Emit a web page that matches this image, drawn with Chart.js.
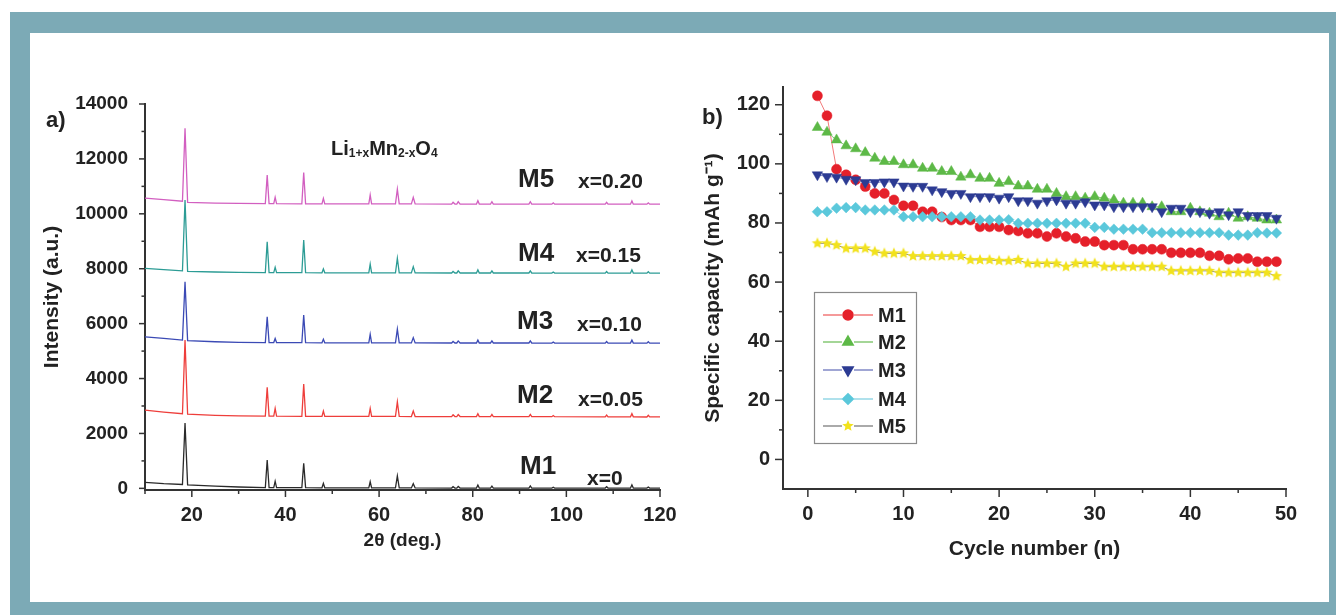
<!DOCTYPE html>
<html><head><meta charset="utf-8">
<script src="https://cdn.jsdelivr.net/npm/chart.js@4.4.1/dist/chart.umd.min.js"></script>
<style>
html,body{margin:0;padding:0;background:#fff;width:1336px;height:615px;overflow:hidden;}
#frame{position:absolute;left:10px;top:12px;width:1326px;height:603px;background:#7CAAB6;}
#inner{position:absolute;left:30px;top:33px;width:1299px;height:569px;background:#fff;}
canvas{position:absolute;left:0;top:0;width:1336px;height:615px;}
</style></head><body>
<div id="frame"></div><div id="inner"></div>
<canvas id="ca" width="1336" height="615"></canvas>
<canvas id="cb" width="1336" height="615"></canvas>
<script>
// ---------- Panel a) XRD data ----------
const xrdAngles = [10, 14, 18.0, 18.55, 19.1, 25, 30, 35.7, 36.1, 36.5, 37.5, 37.8, 38.1, 43.5, 43.9, 44.3, 47.8, 48.1, 48.4, 57.8, 58.1, 58.4, 63.5, 63.9, 64.3, 66.9, 67.3, 67.7, 75.5, 75.8, 76.2, 76.6, 76.9, 77.3, 80.8, 81.1, 81.4, 83.8, 84.1, 84.4, 92.0, 92.3, 92.6, 96.9, 97.2, 97.5, 108.3, 108.6, 108.9, 113.7, 114.0, 114.3, 117.2, 117.5, 117.8, 120];
const xrdM1 = [220, 170, 140, 2380, 130, 80, 50, 30, 1030, 30, 30, 260, 30, 25, 910, 25, 20, 180, 20, 15, 240, 15, 15, 450, 15, 15, 170, 15, 10, 60, 10, 10, 70, 10, 10, 120, 10, 10, 80, 10, 10, 90, 10, 10, 40, 10, 10, 60, 10, 10, 130, 10, 10, 50, 10, 10];
const xrdM2 = [2850, 2780, 2720, 5400, 2700, 2660, 2640, 2630, 3680, 2630, 2630, 2910, 2630, 2625, 3800, 2625, 2620, 2815, 2620, 2620, 2910, 2620, 2620, 3150, 2620, 2615, 2815, 2615, 2615, 2680, 2615, 2615, 2690, 2615, 2615, 2720, 2615, 2610, 2690, 2610, 2610, 2690, 2610, 2610, 2650, 2610, 2605, 2670, 2605, 2605, 2720, 2605, 2600, 2660, 2600, 2600];
const xrdM3 = [5520, 5460, 5400, 7520, 5380, 5340, 5320, 5310, 6250, 5310, 5310, 5460, 5310, 5305, 6310, 5305, 5300, 5430, 5300, 5300, 5610, 5300, 5300, 5800, 5300, 5300, 5490, 5300, 5295, 5350, 5295, 5295, 5370, 5295, 5295, 5400, 5295, 5295, 5370, 5295, 5295, 5370, 5295, 5290, 5330, 5290, 5290, 5350, 5290, 5290, 5400, 5290, 5290, 5340, 5290, 5290];
const xrdM4 = [8010, 7970, 7920, 10500, 7900, 7880, 7870, 7860, 8980, 7860, 7860, 8050, 7860, 7855, 9045, 7855, 7850, 7990, 7850, 7850, 8170, 7850, 7850, 8380, 7850, 7850, 8075, 7850, 7845, 7900, 7845, 7845, 7920, 7845, 7845, 7960, 7845, 7845, 7920, 7845, 7845, 7920, 7845, 7840, 7880, 7840, 7840, 7900, 7840, 7840, 7960, 7840, 7840, 7890, 7840, 7840];
const xrdM5 = [10570, 10520, 10460, 13115, 10420, 10390, 10380, 10370, 11410, 10370, 10370, 10600, 10370, 10365, 11500, 10365, 10360, 10560, 10360, 10360, 10685, 10360, 10360, 10900, 10360, 10360, 10600, 10360, 10355, 10420, 10355, 10355, 10440, 10355, 10355, 10480, 10355, 10355, 10440, 10355, 10355, 10440, 10355, 10350, 10400, 10350, 10350, 10420, 10350, 10350, 10470, 10350, 10350, 10400, 10350, 10350];
const xrdXTicks = [10, 20, 30, 40, 50, 60, 70, 80, 90, 100, 110, 120];
const xrdYTicks = [0, 1000, 2000, 3000, 4000, 5000, 6000, 7000, 8000, 9000, 10000, 11000, 12000, 13000, 14000];

// ---------- Panel b) capacity data ----------
const cycles = [1,2,3,4,5,6,7,8,9,10,11,12,13,14,15,16,17,18,19,20,21,22,23,24,25,26,27,28,29,30,31,32,33,34,35,36,37,38,39,40,41,42,43,44,45,46,47,48,49];
const capM1 = [123, 116.3, 98.2, 96.3, 94.6, 92.3, 90, 90, 87.8, 85.8, 85.8, 83.8, 83.8, 82, 81, 81, 81, 78.7, 78.7, 78.7, 77.6, 77.3, 76.5, 76.5, 75.4, 76.5, 75.4, 74.8, 73.7, 73.7, 72.5, 72.5, 72.5, 71.1, 71.1, 71.1, 71.1, 69.9, 69.9, 69.9, 69.9, 68.9, 68.9, 67.7, 68, 68, 66.9, 66.9, 66.9];
const capM2 = [112.3, 110.7, 108.1, 106.1, 105.1, 103.8, 101.9, 100.8, 100.8, 99.7, 99.7, 98.5, 98.5, 97.4, 97.4, 95.5, 96.3, 95.1, 95.1, 93.4, 94, 92.5, 92.5, 91.4, 91.4, 90, 88.9, 88.9, 88.4, 88.9, 88.4, 87.8, 86.7, 86.7, 86.7, 85.5, 85.5, 83.8, 83.8, 85, 83.8, 83.3, 82.1, 83.3, 81.6, 82.1, 81.6, 81, 81];
const capM3 = [96.3, 95.7, 95.5, 94.8, 94.6, 93.7, 93.7, 93.9, 93.9, 92.5, 92.4, 92.4, 91.2, 90.6, 90, 90, 88.9, 88.9, 88.9, 88.4, 88.9, 87.5, 87.5, 86.7, 87.5, 87.8, 86.7, 86.7, 87.2, 86.1, 86.1, 85.5, 85.5, 85.5, 85.5, 85.5, 83.8, 85, 85, 83.8, 83.8, 83.3, 83.8, 82.8, 83.8, 82.5, 82.5, 82.5, 81.6];
const capM4 = [83.8, 83.8, 85, 85.2, 85.2, 84.4, 84.4, 84.4, 84.4, 82.1, 82.1, 82.1, 82.1, 82.1, 82.1, 82.1, 82.1, 81, 81, 81, 81.1, 79.9, 79.9, 79.9, 79.9, 79.9, 79.9, 79.9, 79.9, 78.5, 78.5, 77.9, 77.9, 77.9, 77.9, 76.7, 76.7, 76.7, 76.7, 76.7, 76.7, 76.7, 76.7, 75.9, 75.9, 75.9, 76.7, 76.6, 76.6];
const capM5 = [73.1, 73.1, 72.5, 71.4, 71.4, 71.4, 70.3, 69.7, 69.7, 69.7, 68.8, 68.8, 68.8, 68.8, 68.8, 68.8, 67.5, 67.5, 67.5, 67.2, 67.2, 67.5, 66.3, 66.3, 66.3, 66.3, 65.2, 66.3, 66.3, 66.3, 65.2, 65.2, 65.2, 65.2, 65.2, 65.2, 65.2, 63.8, 63.8, 63.8, 63.8, 63.8, 63.2, 63.2, 63.2, 63.2, 63.2, 63.2, 62];
const capXTicks = [0, 5, 10, 15, 20, 25, 30, 35, 40, 45, 50];
const capYTicks = [0, 10, 20, 30, 40, 50, 60, 70, 80, 90, 100, 110, 120];
const seriesNames = ['M1', 'M2', 'M3', 'M4', 'M5'];

// ---------- styling ----------
const FONT = "'Liberation Sans', Arial, Helvetica, sans-serif";
Chart.defaults.font.family = FONT;
Chart.defaults.color = '#222';
const AXIS = '#333';

function makeStar(color, R) {
  const s = Math.ceil(R * 2 + 2);
  const c = document.createElement('canvas');
  c.width = s; c.height = s;
  const g = c.getContext('2d');
  g.fillStyle = color;
  g.beginPath();
  for (let i = 0; i < 10; i++) {
    const r = i % 2 ? R * 0.45 : R;
    const a = -Math.PI / 2 + i * Math.PI / 5;
    g.lineTo(s / 2 + r * Math.cos(a), s / 2 + r * Math.sin(a));
  }
  g.closePath(); g.fill();
  return c;
}
const starImg = makeStar('#F2E21C', 6);

const xrdColors = ['#2a2a2a', '#EE3E3B', '#3B4AB5', '#2C9C95', '#D25FC0'];
const capStyles = [
  {color: '#E5202A', line: '#F27A7A', style: 'circle', r: 5, rot: 0},
  {color: '#5DB947', line: '#86C976', style: 'triangle', r: 6, rot: 0},
  {color: '#2C3B93', line: '#8189C6', style: 'triangle', r: 6, rot: 180},
  {color: '#5BC8DB', line: '#95D8E6', style: 'rectRot', r: 5.3, rot: 0},
  {color: '#F2E21C', line: '#8E8E8E', style: starImg, r: 6, rot: 0}
];

// tick marks (major / minor) drawn from the scales
const tickMarks = {
  id: 'tickMarks',
  afterDraw(chart, args, opts) {
    const ctx = chart.ctx;
    ctx.save();
    ctx.strokeStyle = AXIS; ctx.lineWidth = 1.5;
    ['x', 'y'].forEach(id => {
      const s = chart.scales[id]; const cfg = opts[id];
      s.ticks.forEach(t => {
        const major = Math.abs(t.value % cfg.every) < 1e-6;
        const len = major ? cfg.major : cfg.minor;
        const p = s.getPixelForValue(t.value);
        ctx.beginPath();
        if (id === 'x') { ctx.moveTo(p, s.top); ctx.lineTo(p, s.top + len); }
        else { ctx.moveTo(s.right, p); ctx.lineTo(s.right - len, p); }
        ctx.stroke();
      });
    });
    ctx.restore();
  }
};

// free text labels
const textLabels = {
  id: 'textLabels',
  afterDraw(chart, args, opts) {
    const ctx = chart.ctx;
    ctx.save();
    ctx.fillStyle = '#222';
    (opts.items || []).forEach(it => {
      let x = it.x;
      it.parts.forEach(p => {
        ctx.font = 'bold ' + p.size + 'px ' + FONT;
        ctx.textBaseline = p.baseline ? 'alphabetic' : 'middle';
        ctx.textAlign = 'left';
        ctx.fillText(p.t, x, it.y + (p.dy || 0));
        x += ctx.measureText(p.t).width + (p.gap || 0);
      });
    });
    ctx.restore();
  }
};

// legend box for panel b
const boxLegend = {
  id: 'boxLegend',
  afterDraw(chart, args, opts) {
    const ctx = chart.ctx;
    ctx.save();
    ctx.strokeStyle = '#8a8a8a'; ctx.lineWidth = 1.2;
    ctx.strokeRect(opts.x, opts.y, opts.w, opts.h);
    chart.data.datasets.forEach((ds, i) => {
      const st = capStyles[i];
      const y = opts.rows[i];
      ctx.strokeStyle = st.line; ctx.lineWidth = 1.5;
      ctx.beginPath();
      ctx.moveTo(opts.lineX0, y); ctx.lineTo(opts.markX - 6, y);
      ctx.moveTo(opts.markX + 6, y); ctx.lineTo(opts.lineX1, y);
      ctx.stroke();
      ctx.fillStyle = st.color; ctx.strokeStyle = st.color;
      Chart.helpers.drawPoint(ctx, {pointStyle: st.style, radius: st.r, rotation: st.rot, borderWidth: 0.5}, opts.markX, y);
      ctx.fillStyle = '#222';
      ctx.font = 'bold 20px ' + FONT;
      ctx.textBaseline = 'middle'; ctx.textAlign = 'left';
      ctx.fillText(ds.label, opts.textX, y + 1);
    });
    ctx.restore();
  }
};

function fixedTicks(list) { return s => { s.ticks = list.map(v => ({value: v})); }; }

// ---------- chart a ----------
new Chart(document.getElementById('ca'), {
  type: 'line',
  data: {
    datasets: [xrdM1, xrdM2, xrdM3, xrdM4, xrdM5].map((arr, i) => ({
      label: seriesNames[i],
      data: xrdAngles.map((a, k) => ({x: a, y: arr[k]})),
      borderColor: xrdColors[i], borderWidth: 1.3, pointRadius: 0, tension: 0, fill: false
    }))
  },
  options: {
    responsive: false, animation: false, devicePixelRatio: 1,
    layout: {padding: {left: 39.4, top: 104, right: 676, bottom: 62.6}},
    plugins: {
      legend: {display: false}, tooltip: {enabled: false},
      tickMarks: {x: {every: 20, major: 7, minor: 4}, y: {every: 2000, major: 6, minor: 3.5}},
      textLabels: {items: [
        {x: 46, y: 121, parts: [{t: 'a)', size: 22}]},
        {x: 331, y: 155, parts: [
          {t: 'Li', size: 20, baseline: true}, {t: '1+x', size: 12, baseline: true, dy: 2},
          {t: 'Mn', size: 20, baseline: true}, {t: '2-x', size: 12, baseline: true, dy: 2},
          {t: 'O', size: 20, baseline: true}, {t: '4', size: 12, baseline: true, dy: 2}]},
        {x: 518, y: 180, parts: [{t: 'M5', size: 26}]}, {x: 578, y: 182, parts: [{t: 'x=0.20', size: 21}]},
        {x: 518, y: 254, parts: [{t: 'M4', size: 26}]}, {x: 576, y: 256, parts: [{t: 'x=0.15', size: 21}]},
        {x: 517, y: 322, parts: [{t: 'M3', size: 26}]}, {x: 577, y: 325, parts: [{t: 'x=0.10', size: 21}]},
        {x: 517, y: 396, parts: [{t: 'M2', size: 26}]}, {x: 578, y: 400, parts: [{t: 'x=0.05', size: 21}]},
        {x: 520, y: 467, parts: [{t: 'M1', size: 26}]}, {x: 587, y: 479, parts: [{t: 'x=0', size: 21}]}
      ]}
    },
    scales: {
      x: {
        type: 'linear', position: 'bottom', min: 10, max: 120,
        afterBuildTicks: fixedTicks(xrdXTicks),
        afterFit: s => { s.height = 62.4; },
        grid: {display: false, drawTicks: false},
        border: {display: true, color: AXIS, width: 2},
        ticks: {autoSkip: false, maxRotation: 0, padding: 13, font: {size: 20, weight: 'bold'},
          callback: v => (v % 20 === 0 ? String(v) : '')},
        title: {display: true, text: '2θ (deg.)', font: {size: 19, weight: 'bold'}, padding: 0, color: '#222'}
      },
      y: {
        type: 'linear', min: -60, max: 14000,
        afterBuildTicks: fixedTicks(xrdYTicks),
        afterFit: s => { s.width = 105.6; },
        grid: {display: false, drawTicks: false},
        border: {display: true, color: AXIS, width: 2},
        ticks: {autoSkip: false, padding: 17, font: {size: 19, weight: 'bold'},
          callback: v => (v % 2000 === 0 ? String(v) : '')},
        title: {display: true, text: 'Intensity (a.u.)', font: {size: 21, weight: 'bold'}, padding: 0, color: '#222'}
      }
    }
  },
  plugins: [tickMarks, textLabels]
});

// ---------- chart b ----------
new Chart(document.getElementById('cb'), {
  type: 'line',
  data: {
    datasets: [capM1, capM2, capM3, capM4, capM5].map((arr, i) => ({
      label: seriesNames[i],
      data: cycles.map((c, k) => ({x: c, y: arr[k]})),
      borderColor: capStyles[i].line, borderWidth: 1, tension: 0, fill: false,
      pointStyle: capStyles[i].style, pointRadius: capStyles[i].r, pointRotation: capStyles[i].rot,
      pointBackgroundColor: capStyles[i].color, pointBorderColor: capStyles[i].color, pointBorderWidth: 0.5,
      order: 5 - i
    }))
  },
  options: {
    responsive: false, animation: false, devicePixelRatio: 1,
    layout: {padding: {left: 700.9, top: 87, right: 50, bottom: 53.4}},
    plugins: {
      legend: {display: false}, tooltip: {enabled: false},
      tickMarks: {x: {every: 10, major: 8, minor: 4}, y: {every: 20, major: 8, minor: 4}},
      textLabels: {items: [{x: 702, y: 118, parts: [{t: 'b)', size: 22}]}]},
      boxLegend: {x: 814.5, y: 292.5, w: 102, h: 151, rows: [315, 342, 370, 399, 426],
        lineX0: 823, lineX1: 873, markX: 848, textX: 878}
    },
    scales: {
      x: {
        type: 'linear', position: 'bottom', min: -2.6, max: 50,
        afterBuildTicks: fixedTicks(capXTicks),
        afterFit: s => { s.height = 72.6; },
        grid: {display: false, drawTicks: false},
        border: {display: true, color: AXIS, width: 2},
        ticks: {autoSkip: false, maxRotation: 0, padding: 13, font: {size: 20, weight: 'bold'},
          callback: v => (v % 10 === 0 ? String(v) : '')},
        title: {display: true, text: 'Cycle number (n)', font: {size: 21, weight: 'bold'}, padding: 0, color: '#222'}
      },
      y: {
        type: 'linear', min: -10, max: 126,
        afterBuildTicks: fixedTicks(capYTicks),
        afterFit: s => { s.width = 82.1; },
        grid: {display: false, drawTicks: false},
        border: {display: true, color: AXIS, width: 2},
        ticks: {autoSkip: false, padding: 13, font: {size: 20, weight: 'bold'},
          callback: v => (v % 20 === 0 ? String(v) : '')},
        title: {display: true, text: 'Specific capacity (mAh g⁻¹)', font: {size: 21, weight: 'bold'}, padding: 0, color: '#222'}
      }
    }
  },
  plugins: [tickMarks, textLabels, boxLegend]
});
</script></body></html>
